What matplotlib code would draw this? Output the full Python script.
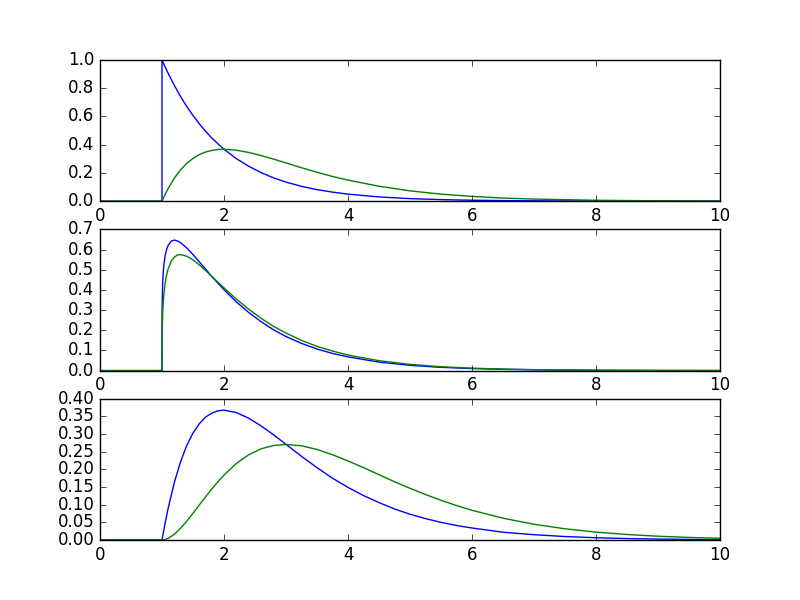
import matplotlib
matplotlib.use("Agg")
import matplotlib.pyplot as plt

# values
x1 = [0, 1, 1, 1.05, 1.1, 1.2, 1.3, 1.4, 1.5, 1.6, 1.7, 1.8, 1.9, 2.0, 2.2, 2.4,
      2.6, 2.8, 3.0, 3.25, 3.5, 3.75, 4.0, 4.5, 5.0, 5.5, 6.0, 6.5, 7.0, 8.0, 9.0, 10.0]
blue1 = [0, 0, 1.0, 0.951, 0.905, 0.819, 0.741, 0.670, 0.607, 0.549, 0.497, 0.449,
         0.407, 0.368, 0.301, 0.247, 0.202, 0.165, 0.135, 0.105, 0.082, 0.064, 0.050,
         0.030, 0.018, 0.011, 0.0067, 0.0041, 0.0025, 0.0009, 0.0003, 0.0001]
green1 = [0, 0, 0, 0.0476, 0.0905, 0.164, 0.222, 0.268, 0.303, 0.329, 0.348, 0.359,
          0.366, 0.368, 0.361, 0.345, 0.323, 0.298, 0.271, 0.237, 0.205, 0.175, 0.149,
          0.106, 0.073, 0.050, 0.034, 0.022, 0.015, 0.0064, 0.0027, 0.0011]

x2 = [0, 1, 1.0005, 1.002, 1.01, 1.02, 1.03, 1.05, 1.075, 1.1, 1.15, 1.2, 1.25, 1.3,
      1.4, 1.5, 1.6, 1.7, 1.8, 1.9, 2.0, 2.2, 2.4, 2.6, 2.8, 3.0, 3.25, 3.5, 3.75,
      4.0, 4.5, 5.0, 5.5, 6.0, 6.5, 7.0, 8.0, 9.0, 10.0]
blue2 = [0, 0, 0.238, 0.314, 0.429, 0.488, 0.524, 0.569, 0.602, 0.622, 0.642, 0.647,
         0.643, 0.634, 0.608, 0.575, 0.540, 0.504, 0.468, 0.434, 0.401, 0.340, 0.288,
         0.242, 0.202, 0.169, 0.135, 0.107, 0.085, 0.068, 0.042, 0.026, 0.016, 0.010,
         0.0063, 0.0039, 0.0015, 0.00055, 0.0002]
green2 = [0, 0, 0.114, 0.172, 0.277, 0.338, 0.377, 0.431, 0.476, 0.505, 0.543, 0.563,
          0.573, 0.575, 0.567, 0.549, 0.525, 0.497, 0.468, 0.439, 0.410, 0.354, 0.304,
          0.259, 0.219, 0.186, 0.150, 0.120, 0.097, 0.077, 0.049, 0.031, 0.019, 0.012,
          0.0076, 0.0047, 0.0018, 0.0007, 0.0003]

x3 = [0, 1, 1.05, 1.1, 1.2, 1.3, 1.4, 1.5, 1.6, 1.7, 1.8, 1.9, 2.0, 2.2, 2.4, 2.6,
      2.8, 3.0, 3.25, 3.5, 3.75, 4.0, 4.25, 4.5, 4.75, 5.0, 5.25, 5.5, 5.75, 6.0,
      6.5, 7.0, 7.5, 8.0, 8.5, 9.0, 9.5, 10.0]
blue3 = [0, 0, 0.0476, 0.0905, 0.164, 0.222, 0.268, 0.303, 0.329, 0.348, 0.359, 0.366,
         0.368, 0.361, 0.345, 0.323, 0.298, 0.271, 0.237, 0.205, 0.175, 0.149, 0.126,
         0.106, 0.088, 0.073, 0.0606, 0.050, 0.0411, 0.034, 0.022, 0.015, 0.0098,
         0.0064, 0.0041, 0.0027, 0.0017, 0.0011]
green3 = [0, 0, 0.0012, 0.0045, 0.0164, 0.0333, 0.0536, 0.0758, 0.0988, 0.1217,
          0.1438, 0.1647, 0.1839, 0.2169, 0.2417, 0.2584, 0.2678, 0.2707, 0.2669,
          0.2565, 0.2416, 0.2240, 0.205, 0.1850, 0.165, 0.1465, 0.1288, 0.1125,
          0.0976, 0.0842, 0.0618, 0.0446, 0.0318, 0.0223, 0.0156, 0.0107, 0.0073,
          0.0050]

plt.style.use('classic')
fig = plt.figure(figsize=(8, 6), dpi=100)

ax = fig.add_subplot(3, 1, 1)
ax.plot(x1, blue1, 'b')
ax.plot(x1, green1, 'g')
ax.set_xlim(0, 10)
ax.set_ylim(0, 1.0)

ax = fig.add_subplot(3, 1, 2)
ax.plot(x2, blue2, 'b')
ax.plot(x2, green2, 'g')
ax.set_xlim(0, 10)
ax.set_ylim(0, 0.7)

ax = fig.add_subplot(3, 1, 3)
ax.plot(x3, blue3, 'b')
ax.plot(x3, green3, 'g')
ax.set_xlim(0, 10)
ax.set_ylim(0, 0.4)

fig.savefig('out.png', dpi=100)
